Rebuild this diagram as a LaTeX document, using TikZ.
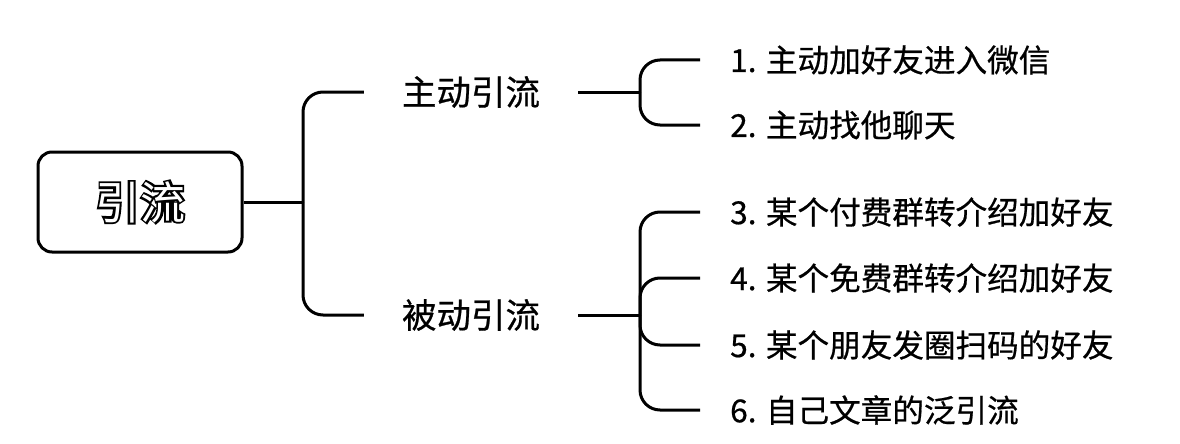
\documentclass[tikz,border=0pt]{standalone}
\usepackage{fontspec}
\setmainfont[FakeBold=0.6]{Noto Sans CJK SC}
\newfontfamily\rootfont[FakeBold=6]{Noto Sans CJK SC Bold}
\newfontfamily\rootinner{Noto Sans CJK SC}
\begin{document}
\begin{tikzpicture}[x=1pt,y=-1pt,
  link/.style={draw, line width=3pt, rounded corners=20pt},
  rootbox/.style={draw, line width=3pt, rounded corners=14pt, minimum width=204pt, minimum height=100pt, inner sep=0pt, font=\fontsize{45}{50}\selectfont},
  lvl/.style={inner xsep=38pt, inner ysep=0pt, font=\fontsize{34.5}{40}\selectfont},
  leaf/.style={anchor=west, inner xsep=30pt, inner ysep=0pt, font=\fontsize{31.6}{36}\selectfont}]
\useasboundingbox (0,0) rectangle (1180,444);
\node[rootbox] (root) at (140,202) {\rlap{\rootfont 引流}\textcolor{white}{\rootinner 引流}};
\node[lvl] (a) at (471,92) {主动引流};
\node[lvl] (b) at (471,315) {被动引流};
\coordinate (j0) at (303,202);
\coordinate (ja) at (640,92);
\coordinate (jb) at (640,315);
\node[leaf] (l1) at (700,60) {1. 主动加好友进入微信};
\node[leaf] (l2) at (700,125) {2. 主动找他聊天};
\node[leaf] (l3) at (700,212) {3. 某个付费群转介绍加好友};
\node[leaf] (l4) at (700,278) {4. 某个免费群转介绍加好友};
\node[leaf] (l5) at (700,345) {5. 某个朋友发圈扫码的好友};
\node[leaf] (l6) at (700,410) {6. 自己文章的泛引流};
\draw[link] (root.east) -- (j0);
\draw[link] (j0) |- (a.west);
\draw[link] (j0) |- (b.west);
\draw[link] (a.east) -- (ja);
\draw[link] (b.east) -- (jb);
\draw[link] (ja) |- (l1.west);
\draw[link] (ja) |- (l2.west);
\draw[link] (jb) |- (l3.west);
\draw[link] (jb) |- (l4.west);
\draw[link] (jb) |- (l5.west);
\draw[link] (jb) |- (l6.west);
\end{tikzpicture}
\end{document}
